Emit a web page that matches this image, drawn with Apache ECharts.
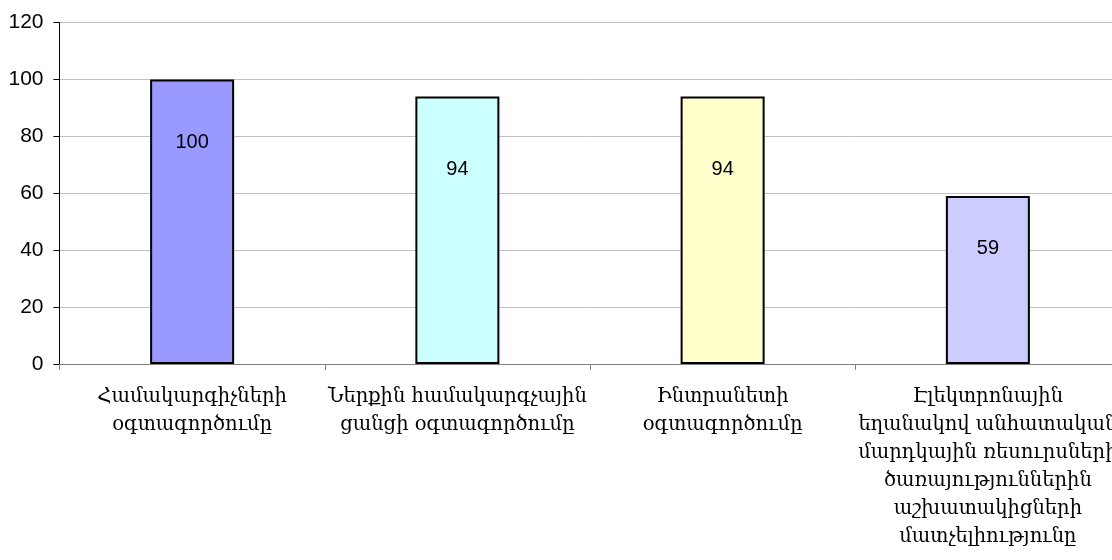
<!DOCTYPE html>
<html>
<head>
<meta charset="utf-8">
<script src="https://cdn.jsdelivr.net/npm/echarts@6/dist/echarts.min.js"></script>
<style>
html,body{margin:0;padding:0;background:#fff;}
#chart{width:1112px;height:560px;}
</style>
</head>
<body>
<div id="chart"></div>
<script>
const categories = [
  "Համակարգիչների\nօգտագործումը",
  "Ներքին համակարգչային\nցանցի օգտագործումը",
  "Ինտրանետի\nօգտագործումը",
  "Էլեկտրոնային\nեղանակով անհատական\nմարդկային ռեսուրսների\nծառայություններին\nաշխատակիցների\nմատչելիությունը"
];
const values = [100, 94, 94, 59];
const yTicks = [0, 20, 40, 60, 80, 100, 120];

const barColors = ["#9999FF", "#CCFFFF", "#FFFFCC", "#CCCCFF"];
const labelDistances = [53, 63, 63, 42];

const chart = echarts.init(document.getElementById('chart'), null, {renderer: 'canvas'});
chart.setOption({
  animation: false,
  backgroundColor: '#ffffff',
  grid: {left: 59.5, width: 1061, top: 22.5, height: 341.5, containLabel: false, outerBoundsMode: 'none'},
  xAxis: {
    type: 'category',
    data: categories,
    boundaryGap: true,
    axisLine: {lineStyle: {color: '#808080', width: 1}},
    axisTick: {show: true, length: 6, inside: false, lineStyle: {color: '#808080'}},
    axisLabel: {
      interval: 0,
      margin: 19,
      fontFamily: 'DejaVu Serif',
      fontSize: 19.5,
      lineHeight: 28,
      color: '#000',
      verticalAlign: 'top',
      hideOverlap: false
    },
    splitLine: {show: false}
  },
  yAxis: {
    type: 'value',
    min: yTicks[0],
    max: yTicks[yTicks.length - 1],
    interval: yTicks[1] - yTicks[0],
    axisLine: {show: true, lineStyle: {color: '#000', width: 1}},
    axisTick: {show: true, length: 6, lineStyle: {color: '#000'}},
    axisLabel: {
      margin: 16,
      fontFamily: 'Liberation Sans, Arial, sans-serif',
      fontSize: 21,
      color: '#000'
    },
    splitLine: {show: true, lineStyle: {color: '#C0C0C0', width: 1}}
  },
  series: [{
    type: 'bar',
    barWidth: 84,
    data: values.map((v, i) => ({
      value: v,
      itemStyle: {color: barColors[i], borderColor: '#000', borderWidth: 2},
      label: {distance: labelDistances[i]}
    })),
    label: {
      show: true,
      position: 'insideTop',
      fontFamily: 'Liberation Sans, Arial, sans-serif',
      fontSize: 20,
      color: '#000'
    }
  }]
});
</script>
</body>
</html>
